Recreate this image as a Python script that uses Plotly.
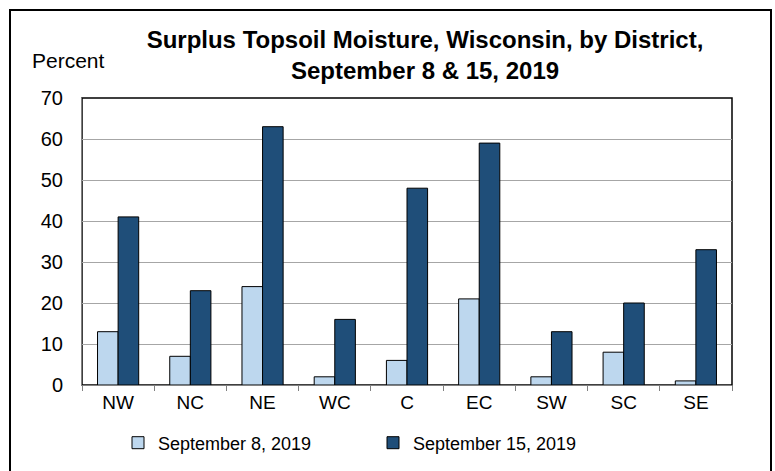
import plotly.graph_objects as go

districts = ["NW", "NC", "NE", "WC", "C", "EC", "SW", "SC", "SE"]
sep8 = [13, 7, 24, 2, 6, 21, 2, 8, 1]
sep15 = [41, 23, 63, 16, 48, 59, 13, 20, 33]
series_names = ["September 8, 2019", "September 15, 2019"]
title_text = "<b>Surplus Topsoil Moisture, Wisconsin, by District,<br>September 8 & 15, 2019</b>"
y_label = "Percent"

FONT = "Liberation Sans, Arial, sans-serif"

fig = go.Figure()
fig.add_trace(go.Bar(x=districts, y=sep8, name=series_names[0],
                     marker=dict(color="#BDD7EE", line=dict(color="#000000", width=1))))
fig.add_trace(go.Bar(x=districts, y=sep15, name=series_names[1],
                     marker=dict(color="#1F4E79", line=dict(color="#000000", width=1))))

L, R, T, B = 82, 43, 98, 86
W, H = 775, 471
pw, ph = W - L - R, H - T - B

fig.update_layout(
    width=W, height=H,
    margin=dict(l=L, r=R, t=T, b=B),
    paper_bgcolor="white", plot_bgcolor="white",
    barmode="group", bargap=0.43, bargroupgap=0,
    font=dict(family=FONT, size=20, color="black"),
    title=dict(text=title_text, x=(425 - L) / pw, xref="paper", xanchor="center",
               y=1 - 48 / H, yanchor="top", yref="container",
               font=dict(size=24, family=FONT, color="black")),
    showlegend=True,
    legend=dict(orientation="h", x=118 / W, xanchor="left", xref="container",
                y=(H - 443) / H, yanchor="middle", yref="container",
                font=dict(size=18, family=FONT), entrywidth=210, entrywidthmode="pixels",
                traceorder="normal", itemwidth=30),
    xaxis=dict(showgrid=False, showline=True, linecolor="#808080", linewidth=1,
               ticks="outside", tickson="boundaries", ticklen=5, tickcolor="#808080",
               tickfont=dict(size=19), mirror=False),
    yaxis=dict(range=[0, 70], dtick=10, showgrid=True, gridcolor="#A6A6A6", gridwidth=1,
               showline=True, linecolor="#808080", linewidth=1, ticks="",
               tickfont=dict(size=20), ticklabelstandoff=14, zeroline=False),
    shapes=[
        dict(type="rect", xref="paper", yref="paper", x0=0, x1=1, y0=0, y1=1,
             line=dict(color="black", width=1.5), layer="below"),
        dict(type="rect", xref="paper", yref="paper",
             x0=(10 - L) / pw, x1=(771 - L) / pw,
             y0=(H - B - 472) / ph, y1=(H - B - 10) / ph,
             line=dict(color="black", width=2)),
    ],
    annotations=[
        dict(text=y_label, xref="paper", yref="paper", x=(68 - L) / pw, y=(H - B - 61) / ph,
             showarrow=False, xanchor="center", yanchor="middle", font=dict(size=21, family=FONT)),
    ],
)

fig.write_html("out.html", config={"displayModeBar": False},
               post_script="document.body.style.margin='0';document.body.style.padding='0';document.body.style.overflow='hidden';")
